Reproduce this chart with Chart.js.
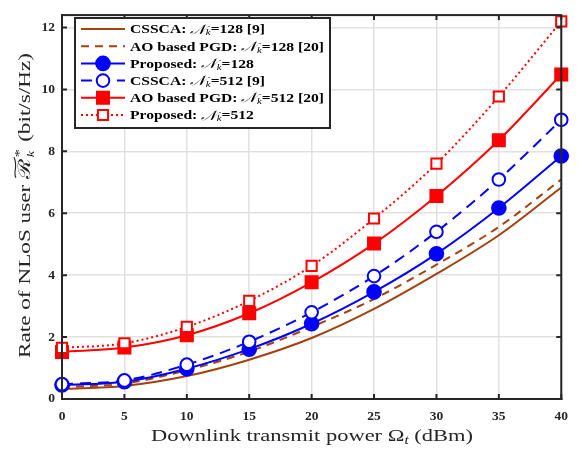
<!DOCTYPE html>
<html>
<head>
<meta charset="utf-8">
<script src="https://cdn.jsdelivr.net/npm/chart.js@4"></script>
<style>
html, body { margin: 0; padding: 0; background: #fff; }
#wrap { width: 577px; height: 450px; }
</style>
</head>
<body>
<div id="wrap"><canvas id="c" width="577" height="450"></canvas></div>
<script>
// Downlink transmit power (dBm)
const powerDbm = [0, 5, 10, 15, 20, 25, 30, 35, 40];

// Achievable rate of the NLoS user (bit/s/Hz)
const cssca128    = [0.32, 0.42, 0.74, 1.27, 1.97, 2.91, 4.04, 5.29, 6.83];
const aoPgd128    = [0.38, 0.50, 0.93, 1.53, 2.33, 3.23, 4.34, 5.56, 7.09];
const proposed128 = [0.45, 0.56, 0.98, 1.61, 2.43, 3.46, 4.69, 6.17, 7.85];
const cssca512    = [0.48, 0.60, 1.11, 1.85, 2.80, 3.97, 5.40, 7.09, 9.02];
const aoPgd512    = [1.52, 1.66, 2.06, 2.77, 3.77, 5.02, 6.56, 8.36, 10.48];
const proposed512 = [1.65, 1.80, 2.33, 3.17, 4.30, 5.83, 7.60, 9.77, 12.20];

// Legend text parts
const schemeNames = ['CSSCA:', 'AO based PGD:', 'Proposed:', 'CSSCA:', 'AO based PGD:', 'Proposed:'];
const elementCounts = [128, 128, 128, 512, 512, 512];
const references = ['[9]', '[20]', '', '[9]', '[20]', ''];

const xTickValues = [0, 5, 10, 15, 20, 25, 30, 35, 40];
const yTickValues = [0, 2, 4, 6, 8, 10, 12];

const BROWN = '#a3410f';
const BLUE = '#0000ff';
const RED = '#ff0000';
const AXIS = '#262626';
const SERIF = "'Liberation Serif', 'DejaVu Serif', serif";

function pts(ys) { return powerDbm.map((x, i) => ({ x: x, y: ys[i] })); }

function series(ys, color, dash, style, radius, filled) {
  return {
    data: pts(ys),
    borderColor: color,
    borderWidth: 2,
    borderDash: dash,
    pointStyle: style || 'circle',
    pointRadius: style ? radius : 0,
    pointHoverRadius: style ? radius : 0,
    pointBorderWidth: 2,
    pointBorderColor: color,
    pointBackgroundColor: filled ? color : '#ffffff',
    cubicInterpolationMode: 'monotone',
    fill: false,
    clip: false
  };
}

const datasets = [
  series(cssca128, BROWN, [], null),
  series(aoPgd128, BROWN, [8, 6], null),
  series(proposed128, BLUE, [], 'circle', 6.8, true),
  series(cssca512, BLUE, [11, 7], 'circle', 6.3, false),
  series(aoPgd512, RED, [], 'rect', 8.5, true),
  series(proposed512, RED, [2, 3], 'rect', 7.2, false)
];
// later series are painted over earlier ones
datasets.forEach((d, i) => { d.order = datasets.length - i; });

// Text runs made of pieces with their own fonts and offsets, stretched to a width
function richWidth(ctx, segs) {
  let w = 0;
  segs.forEach(s => { ctx.font = s.font; w += s.w !== undefined ? s.w : ctx.measureText(s.t).width; });
  return w;
}
function drawRich(ctx, segs, x, y, sx) {
  ctx.save();
  ctx.translate(x, y);
  ctx.scale(sx, 1);
  let cx = 0;
  segs.forEach(s => {
    ctx.font = s.font;
    if (s.draw) { s.draw(ctx, cx, 0); }
    else { ctx.fillText(s.t, cx, s.dy || 0); }
    cx += s.w !== undefined ? s.w : ctx.measureText(s.t).width;
  });
  ctx.restore();
}

const decorations = {
  id: 'decorations',
  afterDraw(chart) {
    const ctx = chart.ctx;
    const a = chart.chartArea;
    const xs = chart.scales.x, ys = chart.scales.y;
    ctx.save();

    // Box outline and inward ticks
    ctx.strokeStyle = AXIS;
    ctx.lineWidth = 2;
    ctx.strokeRect(a.left, a.top, a.right - a.left, a.bottom - a.top);
    ctx.beginPath();
    xTickValues.forEach(v => {
      const px = xs.getPixelForValue(v);
      ctx.moveTo(px, a.bottom); ctx.lineTo(px, a.bottom - 5);
      ctx.moveTo(px, a.top); ctx.lineTo(px, a.top + 5);
    });
    yTickValues.forEach(v => {
      const py = ys.getPixelForValue(v);
      ctx.moveTo(a.left, py); ctx.lineTo(a.left + 5, py);
      ctx.moveTo(a.right, py); ctx.lineTo(a.right - 5, py);
    });
    ctx.stroke();

    // Legend
    const lx = 75, ly = 18, lw = 255, lh = 110, row = 17.2;
    ctx.fillStyle = '#ffffff';
    ctx.fillRect(lx, ly, lw, lh);
    ctx.strokeStyle = AXIS;
    ctx.lineWidth = 2;
    ctx.strokeRect(lx, ly, lw, lh);
    ctx.textBaseline = 'middle';
    ctx.textAlign = 'left';
    const bold = 'bold 13px ' + SERIF;
    chart.data.datasets.forEach((d, i) => {
      const cy = ly + 11 + i * row;
      ctx.save();
      ctx.strokeStyle = d.borderColor;
      ctx.lineWidth = 2;
      ctx.setLineDash(d.borderDash || []);
      ctx.beginPath();
      ctx.moveTo(81, cy); ctx.lineTo(125, cy);
      ctx.stroke();
      ctx.setLineDash([]);
      if (d.pointRadius > 0) {
        ctx.fillStyle = d.pointBackgroundColor;
        ctx.strokeStyle = d.pointBorderColor;
        Chart.helpers.drawPoint(ctx, { pointStyle: d.pointStyle, radius: d.pointRadius, rotation: 0, borderWidth: 2 }, 103, cy);
      }
      ctx.restore();
      ctx.fillStyle = '#000';
      const segs = [
        { t: schemeNames[i] + ' ', font: bold },
        { t: '\u{1D4A9}', font: 'italic 13.5px ' + SERIF },
        { t: 'k', font: 'italic 9px ' + SERIF, dy: 3 },
        { t: '=' + elementCounts[i] + (references[i] ? ' ' + references[i] : ''), font: bold }
      ];
      drawRich(ctx, segs, 130, cy + 1, 1.2);
    });

    // X axis title
    ctx.fillStyle = '#262626';
    ctx.textBaseline = 'alphabetic';
    const tf = '17px ' + SERIF;
    const xSegs = [
      { t: 'Downlink transmit power \u03A9', font: tf },
      { t: 't', font: 'italic 11.5px ' + SERIF, dy: 3 },
      { t: ' (dBm)', font: tf }
    ];
    const xw = richWidth(ctx, xSegs);
    const xTarget = 322;
    drawRich(ctx, xSegs, 151, 441, xTarget / xw);

    // Y axis title (rotated)
    const ySegs = [
      { t: 'Rate of NLoS user ', font: tf },
      { t: '\u211B', font: "17px 'DejaVu Serif', serif", draw(c, x, y) {
          c.fillText('\u211B', x, y);
          const w = c.measureText('\u211B').width;
          c.save();
          c.lineWidth = 1.1;
          c.strokeStyle = '#262626';
          c.beginPath();
          const ty = y - 15, tx = x + 1, tw = w;
          c.moveTo(tx, ty + 1);
          c.bezierCurveTo(tx + tw * 0.25, ty - 2.5, tx + tw * 0.5, ty + 3.5, tx + tw, ty - 1);
          c.stroke();
          c.restore();
        } },
      { t: '*', font: '12px ' + SERIF, draw(c, x, y) {
          c.font = '12px ' + SERIF;
          c.fillText('*', x + 1, y - 7);
          c.font = 'italic 10.5px ' + SERIF;
          c.fillText('k', x + 1, y + 4);
        }, w: 8 },
      { t: ' (bit/s/Hz)', font: tf }
    ];
    ctx.save();
    ctx.translate(30, 358);
    ctx.rotate(-Math.PI / 2);
    const yw = richWidth(ctx, ySegs);
    const yTarget = 305;
    drawRich(ctx, ySegs, 0, 0, yTarget / yw);
    ctx.restore();

    ctx.restore();
  }
};

new Chart(document.getElementById('c'), {
  type: 'line',
  data: { datasets: datasets },
  options: {
    responsive: false,
    animation: false,
    devicePixelRatio: 1,
    layout: { padding: { top: 10, right: 14, left: 0, bottom: 0 } },
    plugins: { legend: { display: false }, tooltip: { enabled: false } },
    scales: {
      x: {
        type: 'linear', min: 0, max: 40,
        afterBuildTicks(s) { s.ticks = xTickValues.map(v => ({ value: v })); },
        afterFit(s) { s.height = 51; },
        grid: { color: '#e1e1e1', lineWidth: 1.5, drawTicks: false },
        border: { color: AXIS, width: 2 },
        ticks: { padding: 9, color: AXIS, font: { family: SERIF, size: 13.5, weight: 'bold' }, maxRotation: 0 }
      },
      y: {
        type: 'linear', min: 0, max: 12.4,
        afterBuildTicks(s) { s.ticks = yTickValues.map(v => ({ value: v })); },
        afterFit(s) { s.width = 62; },
        grid: { color: '#e1e1e1', lineWidth: 1.5, drawTicks: false },
        border: { color: AXIS, width: 2 },
        ticks: { padding: 7, color: AXIS, font: { family: SERIF, size: 13.5, weight: 'bold' } }
      }
    }
  },
  plugins: [decorations]
});
</script>
</body>
</html>
